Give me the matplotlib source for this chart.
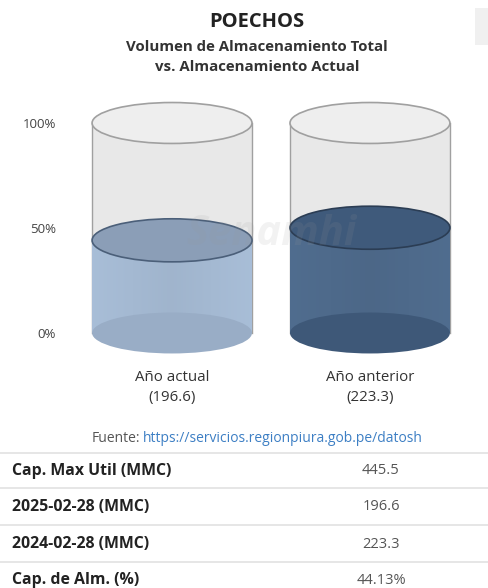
import matplotlib
matplotlib.use('Agg')
import matplotlib.pyplot as plt
from matplotlib.patches import Ellipse, Rectangle
from matplotlib.lines import Line2D
import numpy as np

plt.rcParams['font.family'] = ['Open Sans', 'DejaVu Sans']

# ---------------- data ----------------
title = "POECHOS"
subtitle_lines = ["Volumen de Almacenamiento Total", "vs. Almacenamiento Actual"]
categories = ["Año actual", "Año anterior"]
volumes = [196.6, 223.3]
capacity = 445.5
ytick_values = [0, 50, 100]
ytick_labels = ["0%", "50%", "100%"]
table_labels = ["Cap. Max Util (MMC)", "2025-02-28 (MMC)", "2024-02-28 (MMC)", "Cap. de Alm. (%)"]
table_values = ["445.5", "196.6", "223.3", "44.13%"]
source_label = "Fuente:"
source_url = "https://servicios.regionpiura.gob.pe/datosh"

# ---------------- style ----------------
body_colors = ['#a4b9d2', '#4e6a8b']
top_colors = ['#8b9eb7', '#3f5a7b']
top_edges = ['#4b5f79', '#2b3d54']
bottom_colors = ['#99adc6', '#3e5878']

W, H = 489, 588
fig = plt.figure(figsize=(W / 100, H / 100), dpi=100)
fig.patch.set_facecolor('white')


def fx(px):
    return px / W


def fy(py):
    return 1 - py / H


# chart axes
ax_l, ax_r, ax_t, ax_b = 62, 480, 95, 365
ax = fig.add_axes([fx(ax_l), fy(ax_b), (ax_r - ax_l) / W, (ax_b - ax_t) / H])
ax.set_xlim(-0.556, 1.556)
ax.set_ylim(-15.24, 113.33)
for s in ax.spines.values():
    s.set_visible(False)
ax.patch.set_alpha(0)

cw = 0.808   # cylinder width (data units)
eh_glass = 19.5
eh_liq = 20.5

def gradient_img(base, n=64):
    rgb = np.array(matplotlib.colors.to_rgb(base))
    t = np.linspace(0, 1, n)
    f = 1 + 0.05 * (np.abs(2 * t - 1) - 0.5)
    img = np.clip(rgb[None, :] * f[:, None], 0, 1)
    return img[None, :, :]

for i, v in enumerate(volumes):
    pct = v / capacity * 100
    x0 = i - cw / 2
    # glass
    glass = Rectangle((x0, 0), cw, 100, facecolor='#e8e8e8', edgecolor='none', zorder=1)
    ax.add_patch(glass)
    ax.plot([x0, x0], [0, 100], color='#a0a0a0', lw=1.0, zorder=1.5)
    ax.plot([x0 + cw, x0 + cw], [0, 100], color='#a0a0a0', lw=1.0, zorder=1.5)
    ax.add_patch(Ellipse((i, 100), cw, eh_glass, facecolor='#eeeeee', edgecolor='#a0a0a0', lw=1.2, zorder=2))
    # liquid body
    rect = Rectangle((x0, 0), cw, pct, facecolor='none', edgecolor='none', zorder=3)
    ax.add_patch(rect)
    im = ax.imshow(gradient_img(body_colors[i]), extent=(x0, x0 + cw, 0, pct),
                   aspect='auto', zorder=3, interpolation='bilinear')
    im.set_clip_path(rect)
    ax.add_patch(Ellipse((i, 0), cw, eh_glass, facecolor=bottom_colors[i], edgecolor='none', zorder=3.5))
    ax.add_patch(Ellipse((i, pct), cw, eh_liq, facecolor=top_colors[i], edgecolor=top_edges[i], lw=1.2, zorder=4))

# watermark
ax.text(0.5, 47, "Senamhi", ha='center', va='center', fontsize=30, fontweight='bold',
        color='#9a9a9a', alpha=0.12, zorder=6, style='italic')

ax.set_yticks(ytick_values, ytick_labels)
ax.set_xticks(range(len(categories)), [f"{c}\n({v})" for c, v in zip(categories, volumes)])
ax.tick_params(axis='y', length=0, pad=4.3, labelsize=9.5, labelcolor='#444444')
ax.tick_params(axis='x', length=0, pad=3.5, labelsize=10.8, labelcolor='#333333')
for lab in ax.get_xticklabels():
    lab.set_linespacing(1.45)

# titles
fig.text(fx(257), fy(22), title, ha='center', va='center', fontsize=14.5, fontweight='bold', color='#222222')
fig.text(fx(257), fy(47), subtitle_lines[0], ha='center', va='center', fontsize=10.8, fontweight='bold', color='#333333')
fig.text(fx(257), fy(67), subtitle_lines[1], ha='center', va='center', fontsize=10.8, fontweight='bold', color='#333333')

# source
fig.text(fx(140), fy(439), source_label, ha='right', va='center', fontsize=10, color='#555555')
fig.text(fx(143), fy(439), source_url, ha='left', va='center', fontsize=10, color='#3d7fc4')

# table
line_ys = [453, 488, 525, 562]
text_ys = [471, 507, 544, 580]
for ly in line_ys:
    fig.add_artist(Line2D([0, 1], [fy(ly), fy(ly)], transform=fig.transFigure, color='#e2e2e2', lw=1.2))
for lab, val, ty in zip(table_labels, table_values, text_ys):
    fig.text(fx(12), fy(ty), lab, ha='left', va='center', fontsize=11.4, fontweight='bold', color='#222222')
    fig.text(fx(381), fy(ty), val, ha='center', va='center', fontsize=10.5, color='#555555')

# faint scrollbar artifact top right
fig.add_artist(Rectangle((fx(475), fy(45)), fx(14), (45 - 8) / H, transform=fig.transFigure,
                         facecolor='#f0f0f0', edgecolor='none'))

fig.savefig('out.png', dpi=100)
